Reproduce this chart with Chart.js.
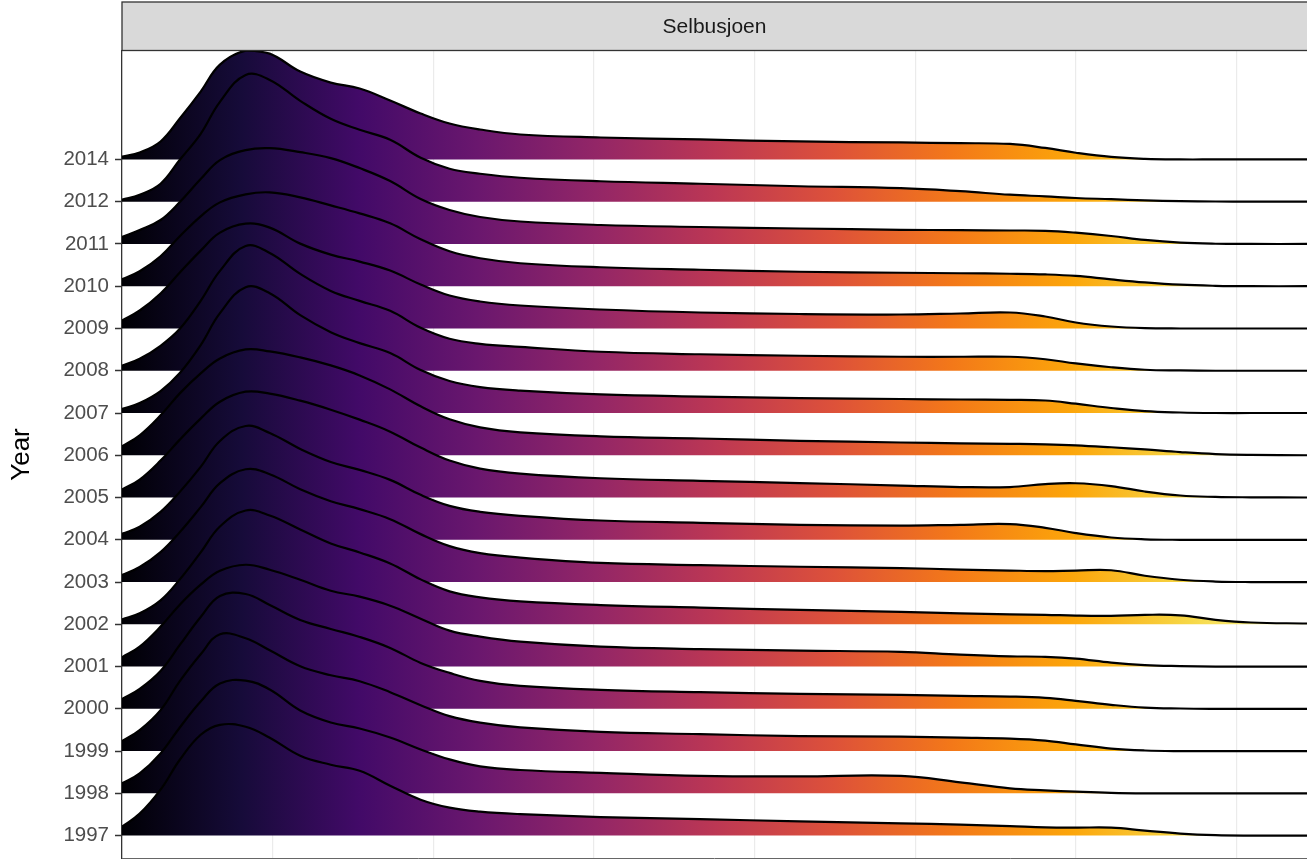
<!DOCTYPE html>
<html>
<head>
<meta charset="utf-8">
<script src="https://cdn.jsdelivr.net/npm/chart.js@4/dist/chart.umd.min.js"></script>
<style>
  body { margin: 0; background: #fff; }
  #wrap { width: 1307px; height: 860px; position: relative; }
</style>
</head>
<body>
<div id="wrap"><canvas id="myChart"></canvas></div>
<script>
// ridgeline data, Selbusjoen
var years = ['1997','1998','1999','2000','2001','2002','2003','2004','2005','2006','2007','2008','2009','2010','2011','2012','2014'];
var lengths = [6, 17, 30, 42, 55, 67, 83, 98, 117, 136, 154, 173, 192, 210, 229, 254, 304, 366, 428, 491, 528, 559, 581, 600, 622, 643, 665, 687, 709, 744];

var d1997 = [9, 22, 46, 76, 101, 111, 109, 98, 80, 71, 65, 50, 36, 28, 24, 21.5, 18.6, 16.5, 14.3, 12.3, 11, 9.5, 8.3, 8, 8, 5, 2, 0.4, 0, 0];
var d1998 = [10, 20, 40, 66, 92, 110, 113, 104, 83, 71, 65, 56, 44, 34, 27, 23.4, 20.5, 17.5, 17, 17.5, 11, 5, 3, 1.7, 0.5, 0, 0, 0, 0, 0];
var d1999 = [10, 21, 41, 70, 97, 117, 113, 101, 85, 76, 70, 59, 46, 35, 28.5, 23.7, 19.2, 17, 15, 14.5, 13.5, 12.5, 10.5, 6.7, 2.5, 0.6, 0, 0, 0, 0];
var d2000 = [9.7, 20, 38, 64, 92, 113, 115, 104, 89, 80, 72, 61, 46, 36, 28, 23, 19, 16.7, 15, 14, 13, 12.3, 11, 8, 4, 1.2, 0.3, 0, 0, 0];
var d2001 = [9.3, 20, 40, 62, 82, 96, 102, 97, 87, 76, 70, 61, 48, 36, 30, 25, 20, 17.5, 16, 14.7, 12, 10.3, 9.8, 8, 4, 1.5, 0.5, 0, 0, 0];
var d2002 = [5, 11, 24, 45, 72, 98, 114, 109, 95, 81, 72, 61, 45, 33, 27, 23, 19.3, 16.7, 14.5, 12.5, 11, 10, 9.5, 8.7, 8.5, 9.5, 9, 4.5, 1.8, 0.8];
var d2003 = [7, 15, 30, 50, 75, 99, 113, 108, 93, 81, 73, 63, 48, 36, 29, 24.5, 19.2, 17, 15.3, 14, 12.5, 11.5, 11, 11.5, 11.8, 6.3, 2.3, 0.5, 0, 0];
var d2004 = [6, 13, 28, 48, 73, 99, 114, 107, 91, 78, 70, 60, 45, 34, 28, 24, 19.3, 17, 15, 14.2, 15, 15.7, 12, 6.7, 2.3, 0.5, 0, 0, 0, 0];
var d2005 = [8, 18, 37, 58, 79, 96, 106, 104, 97, 88, 78, 66, 50, 37, 29, 24, 19.3, 16.7, 14.5, 12, 10.5, 10.5, 13.5, 14.3, 11.5, 6, 2, 0.6, 0.2, 0];
var d2006 = [9, 20, 40, 62, 82, 97, 106, 104, 98, 90, 80, 66, 49, 36, 28, 23, 19, 16.8, 14.5, 12.8, 12, 11.5, 11, 10, 8, 5.8, 3.2, 1.2, 0.4, 0];
var d2007 = [4, 10, 22, 40, 68, 100, 126, 120, 98, 81, 70, 60, 43, 32, 26, 22.5, 18.7, 16.5, 15, 14, 13.5, 13.2, 12.5, 9.3, 5, 1.8, 0.5, 0, 0, 0];
var d2008 = [5, 12, 25, 42, 70, 100, 125, 118, 97, 80, 70, 60, 43, 32, 27, 24, 19, 16.5, 15, 14, 14, 14, 11.5, 7.3, 3.5, 1, 0.3, 0, 0, 0];
var d2009 = [8, 18, 35, 56, 78, 96, 105, 101, 85, 74, 67, 58, 44, 33, 27, 23, 19, 16, 14.5, 14, 15, 16, 12, 6, 2, 0.3, 0, 0, 0, 0];
var d2010 = [7, 15, 30, 50, 70, 84, 92, 94, 89, 81, 73, 63, 47, 35, 28, 23, 19, 16.5, 14.5, 13.5, 13, 12.5, 11.8, 10.3, 6.8, 3.8, 1.5, 0.4, 0, 0];
var d2011 = [7, 14, 24, 42, 65, 84, 94, 96, 92, 86, 76, 63, 45, 34, 27, 22.5, 19, 17, 15.5, 14.2, 13.8, 13.5, 13.2, 11.3, 8, 4, 1.3, 0.2, 0, 0];
var d2012 = [2, 7, 18, 42, 68, 100, 127, 122, 101, 83, 72, 62, 44, 33, 28, 24, 20.5, 18, 15.5, 13.5, 10.5, 7, 5.3, 3.7, 2.5, 1.3, 0.5, 0.2, 0, 0];
var d2014 = [2.7, 7, 18, 41, 68, 95, 109, 106, 88, 77, 71, 59, 46, 36, 30, 25, 22, 20, 18, 17, 16.3, 15.5, 11.5, 6.7, 2.5, 0.6, 0, 0, 0, 0];

var densities = [d1997, d1998, d1999, d2000, d2001, d2002, d2003, d2004, d2005, d2006,
                 d2007, d2008, d2009, d2010, d2011, d2012, d2014];

// tallest ridge spans 3 rows (like ggridges scale = 3)
var ridgeScale = 3 / 127;
var xGrid = [100, 200, 300, 400, 500, 600, 700];
var facetLabel = 'Selbusjoen';
var fontFamily = '"Liberation Sans", Arial, Helvetica, sans-serif';

var inferno = ['#000004','#160B39','#420A68','#6A176E','#932667','#BC3754',
               '#DD513A','#F37819','#FCA50A','#F6D746','#FCFFA4'];

function infernoFill(context) {
    var chart = context.chart;
    var area = chart.chartArea;
    if (!area) return '#420A68';
    var g = chart.ctx.createLinearGradient(area.left, 0, area.right, 0);
    inferno.forEach(function(c, i) { g.addColorStop(i / (inferno.length - 1), c); });
    return g;
}

var datasets = years.map(function(year, i) {
    return {
        label: year,
        data: lengths.map(function(x, k) { return { x: x, y: i + densities[i][k] * ridgeScale }; }),
        fill: { value: i },
        backgroundColor: infernoFill,
        borderColor: '#000000',
        borderWidth: 2.2,
        pointRadius: 0,
        tension: 0.4
    };
});

var stripPlugin = {
    id: 'strip',
    afterDraw: function(chart) {
        var ctx = chart.ctx;
        var a = chart.chartArea;
        ctx.save();
        ctx.fillStyle = '#D9D9D9';
        ctx.fillRect(a.left, 2, a.right - a.left + 4, 48);
        ctx.strokeStyle = '#333333';
        ctx.lineWidth = 1.3;
        ctx.strokeRect(a.left, 2, a.right - a.left + 6, 48.5);
        ctx.fillStyle = '#1A1A1A';
        ctx.font = '21px ' + fontFamily;
        ctx.textAlign = 'center';
        ctx.textBaseline = 'middle';
        ctx.fillText(facetLabel, (a.left + a.right) / 2, 27);
        // bottom panel border
        ctx.strokeStyle = '#666666';
        ctx.lineWidth = 1;
        ctx.beginPath();
        ctx.moveTo(a.left, a.bottom + 0.5);
        ctx.lineTo(a.right, a.bottom + 0.5);
        ctx.stroke();
        ctx.restore();
    }
};

var ctx = document.getElementById('myChart').getContext('2d');
var myChart = new Chart(ctx, {
    type: 'line',
    data: { datasets: datasets },
    options: {
        responsive: true,
        maintainAspectRatio: false,
        animation: false,
        layout: { padding: { top: 51, bottom: 2, left: 0, right: 0 } },
        plugins: {
            legend: { display: false },
            tooltip: { enabled: false }
        },
        scales: {
            x: {
                type: 'linear',
                min: 6,
                max: 744,
                afterBuildTicks: function(s) { s.ticks = xGrid.map(function(v) { return { value: v }; }); },
                afterFit: function(s) { s.height = 0; s.paddingLeft = 0; s.paddingRight = 0; },
                ticks: { display: false },
                grid: { color: '#EBEBEB', lineWidth: 1.2, drawTicks: false },
                border: { display: false }
            },
            y: {
                type: 'linear',
                min: -0.53,
                max: 18.566,
                afterBuildTicks: function(s) { s.ticks = years.map(function(y, i) { return { value: i }; }); },
                afterFit: function(s) { s.width = 122; s.paddingTop = 0; s.paddingBottom = 0; },
                ticks: {
                    autoSkip: false,
                    padding: 6,
                    color: '#4D4D4D',
                    font: { family: fontFamily, size: 20.5 },
                    callback: function(value, index) { return years[index]; }
                },
                grid: {
                    drawOnChartArea: false,
                    drawTicks: true,
                    tickLength: 7,
                    tickColor: '#333333',
                    tickWidth: 1.5
                },
                border: { display: true, color: '#333333', width: 1.3 },
                title: {
                    display: true,
                    text: 'Year',
                    color: '#000000',
                    font: { family: fontFamily, size: 26 },
                    padding: { top: 6, bottom: 0 }
                }
            }
        }
    },
    plugins: [stripPlugin]
});
</script>
</body>
</html>
